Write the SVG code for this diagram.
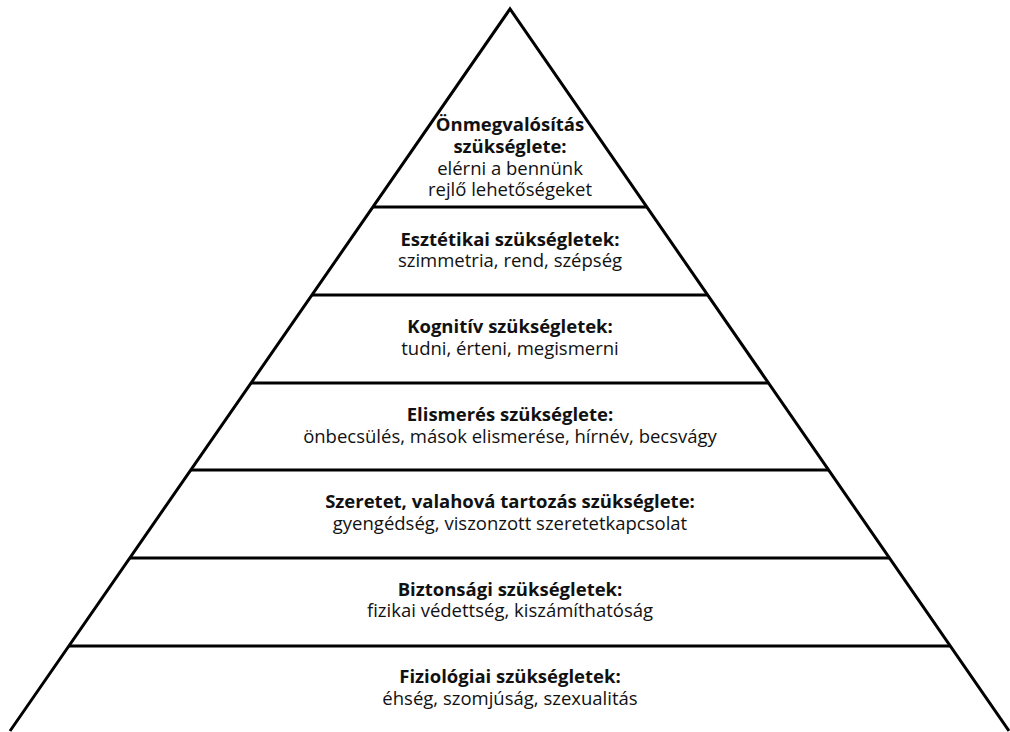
<svg xmlns="http://www.w3.org/2000/svg" width="1010" height="732" viewBox="0 0 1010 732">
<style>
.edge{fill:none;stroke:#000;stroke-width:3;stroke-linejoin:miter}
.div{stroke:#000;stroke-width:3}
text{font-family:"Open Sans","Noto Sans","Liberation Sans",sans-serif;font-size:18.5px;text-anchor:middle;fill:#111}
.b{font-weight:bold}
</style>
<rect width="1010" height="732" fill="#fff"/>
<g id="outline">
<path class="edge" d="M10,731 L510,9 L1009,731"/>
</g>
<g id="level7">
<text x="510" y="131" class="b">Önmegvalósítás</text>
<text x="510" y="153" class="b">szükséglete:</text>
<text x="510" y="175">elérni a bennünk</text>
<text x="510" y="196">rejlő lehetőségeket</text>
</g>
<g id="level6">
<line class="div" x1="373" y1="207" x2="647" y2="207"/>
<text x="510" y="246" class="b">Esztétikai szükségletek:</text>
<text x="510" y="267">szimmetria, rend, szépség</text>
</g>
<g id="level5">
<line class="div" x1="312" y1="295" x2="708" y2="295"/>
<text x="510" y="333" class="b">Kognitív szükségletek:</text>
<text x="510" y="355">tudni, érteni, megismerni</text>
</g>
<g id="level4">
<line class="div" x1="251" y1="383" x2="769" y2="383"/>
<text x="510" y="421" class="b">Elismerés szükséglete:</text>
<text x="510" y="443">önbecsülés, mások elismerése, hírnév, becsvágy</text>
</g>
<g id="level3">
<line class="div" x1="191" y1="470" x2="829" y2="470"/>
<text x="510" y="508" class="b">Szeretet, valahová tartozás szükséglete:</text>
<text x="510" y="530">gyengédség, viszonzott szeretetkapcsolat</text>
</g>
<g id="level2">
<line class="div" x1="130" y1="558" x2="889" y2="558"/>
<text x="510" y="596" class="b">Biztonsági szükségletek:</text>
<text x="510" y="617">fizikai védettség, kiszámíthatóság</text>
</g>
<g id="level1">
<line class="div" x1="69" y1="646" x2="950" y2="646"/>
<text x="510" y="683" class="b">Fiziológiai szükségletek:</text>
<text x="510" y="705">éhség, szomjúság, szexualitás</text>
</g>
</svg>
